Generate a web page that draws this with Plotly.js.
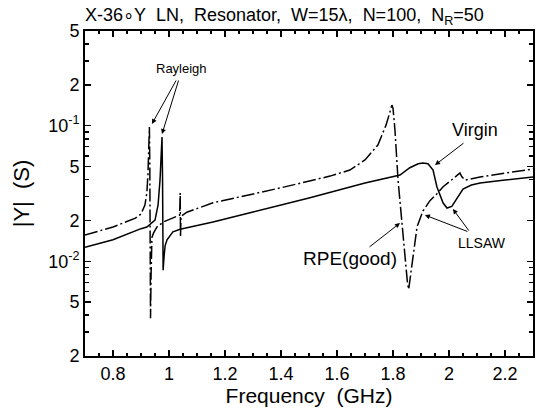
<!DOCTYPE html>
<html><head><meta charset="utf-8">
<script src="https://cdn.plot.ly/plotly-3.0.1.min.js"></script>
<style>html,body{margin:0;padding:0;background:#fff}#chart{width:537px;height:410px}</style>
</head><body><div id="chart"></div>
<script>
// RPE(good) curve (dash-dot)
const freqRPE = [0.70,0.80,0.88,0.90,0.914,0.921,0.925,0.928,0.930,0.9315,0.933,0.934,0.936,0.939,0.945,0.957,0.98,1.014,1.038,1.040,1.041,1.043,1.064,1.111,1.157,1.396,1.575,1.646,1.70,1.746,1.775,1.789,1.796,1.80,1.807,1.818,1.832,1.843,1.852,1.856,1.861,1.868,1.876,1.886,1.907,1.932,1.957,1.979,2.004,2.029,2.039,2.046,2.057,2.111,2.229,2.30];
const admRPE  = [0.0156,0.0179,0.0208,0.0223,0.0260,0.0320,0.045,0.070,0.098,0.05,0.012,0.0038,0.008,0.0150,0.0162,0.0179,0.0195,0.0208,0.0219,0.0319,0.0151,0.0215,0.0230,0.0251,0.0270,0.0347,0.0425,0.0471,0.0559,0.0721,0.101,0.126,0.142,0.135,0.093,0.0397,0.0191,0.0102,0.0068,0.0062,0.0075,0.0095,0.0130,0.0180,0.0235,0.0280,0.0315,0.0355,0.039,0.0433,0.0448,0.042,0.0397,0.0419,0.0455,0.048];
// Virgin curve (solid)
const freqVirgin = [0.70,0.80,0.90,0.921,0.95,0.961,0.968,0.972,0.975,0.977,0.979,0.982,0.986,0.993,1.014,1.04,1.111,1.157,1.30,1.50,1.70,1.825,1.86,1.89,1.907,1.925,1.943,1.957,1.979,1.993,2.010,2.029,2.05,2.08,2.111,2.20,2.30];
const admVirgin  = [0.0127,0.0144,0.0174,0.0179,0.0201,0.026,0.040,0.060,0.0826,0.04,0.0086,0.0106,0.0130,0.0144,0.0165,0.0172,0.0185,0.0195,0.0231,0.0293,0.0378,0.0433,0.049,0.0524,0.0531,0.0524,0.0471,0.0353,0.0269,0.0247,0.0254,0.029,0.0341,0.0365,0.0378,0.0397,0.0419];
// axis ticks
const xTickVals = [0.8,1,1.2,1.4,1.6,1.8,2,2.2];
const xTickText = ['0.8','1','1.2','1.4','1.6','1.8','2','2.2'];
const yTickVals = [0.002,0.005,0.01,0.02,0.05,0.1,0.2,0.5];
const yTickText = ['2','5','10<sup>-2</sup>','2','5','10<sup>-1</sup>','2','5'];
const yMinorVals = [0.003,0.004,0.006,0.007,0.008,0.009,0.03,0.04,0.06,0.07,0.08,0.09,0.3,0.4];

const FONT = 'Liberation Sans, Arial, sans-serif';
const S2 = '\u00a0\u00a0';
const traces = [
  {x: freqRPE, y: admRPE, type:'scatter', mode:'lines', line:{color:'#000', width:1.5, dash:'13px,3px,2px,3px'}, hoverinfo:'skip'},
  {x: freqVirgin, y: admVirgin, type:'scatter', mode:'lines', line:{color:'#000', width:1.5}, hoverinfo:'skip'}
];
const L = Math.log10;
function arrow(xh, yh, ax, ay){
  return {x:xh, y:yh, xref:'x', yref:'y', text:'', showarrow:true, arrowhead:2, arrowsize:1, arrowwidth:1, arrowcolor:'#000', ax:ax, ay:ay, standoff:0};
}
function label(xc, yc, t, size){
  return {x:xc, y:yc, xref:'x', yref:'y', text:t, showarrow:false, font:{family:FONT, size:size, color:'#000'}, xanchor:'center', yanchor:'middle'};
}
const layout = {
  width:537, height:410,
  margin:{l:85, r:4, t:31, b:54},
  paper_bgcolor:'#fff', plot_bgcolor:'#fff',
  showlegend:false,
  font:{family:FONT, color:'#000'},
  title:{text:'X-36∘Y'+S2+'LN,'+S2+'Resonator,'+S2+'W=15λ,'+S2+'N=100,'+S2+'N<sub>R</sub>=50', font:{family:FONT, size:18, color:'#000'}, x:85/537, xanchor:'left', xref:'container', y:1-15/410, yanchor:'middle', yref:'container'},
  xaxis:{range:[0.7,2.3], showgrid:false, zeroline:false, showline:true, linecolor:'#000', linewidth:2, mirror:'ticks',
    ticks:'inside', ticklen:6, tickwidth:1.5, tickcolor:'#000', tickvals:xTickVals, ticktext:xTickText,
    tickfont:{family:FONT, size:18, color:'#000'},
    minor:{dtick:0.05, tick0:0.7, ticks:'inside', ticklen:3, tickwidth:1.5, tickcolor:'#000', showgrid:false},
    title:{text:'Frequency'+S2+'(GHz)', font:{family:FONT, size:21, color:'#000'}, standoff:3}},
  yaxis:{type:'log', range:[L(0.002), L(0.5)], showgrid:false, zeroline:false, showline:true, linecolor:'#000', linewidth:2, mirror:'ticks',
    ticks:'inside', ticklen:6, tickwidth:1.5, tickcolor:'#000', tickvals:yTickVals, ticktext:yTickText,
    tickfont:{family:FONT, size:18, color:'#000'},
    minor:{tickvals:yMinorVals, ticks:'inside', ticklen:4, tickwidth:1.5, tickcolor:'#000', showgrid:false},
    title:{text:'|Y|'+S2+'(S)', font:{family:FONT, size:22, color:'#000'}, standoff:12}},
  annotations:[
    label(1.043, -0.581, 'Rayleigh', 13),
    arrow(0.939, -0.987, 25, -45),
    arrow(0.975, -1.061, 17, -55),
    label(2.093, -1.032, 'Virgin', 18),
    arrow(1.95, -1.290, 30, -23),
    label(2.118, -1.866, 'LLSAW', 14),
    arrow(1.914, -1.659, 44, 17),
    arrow(2.014, -1.615, 17, 23),
    label(1.646, -1.976, 'RPE(good)', 19),
    arrow(1.825, -1.718, -32, 25)
  ]
};
Plotly.newPlot('chart', traces, layout, {staticPlot:true, displayModeBar:false});
</script>
</body></html>
